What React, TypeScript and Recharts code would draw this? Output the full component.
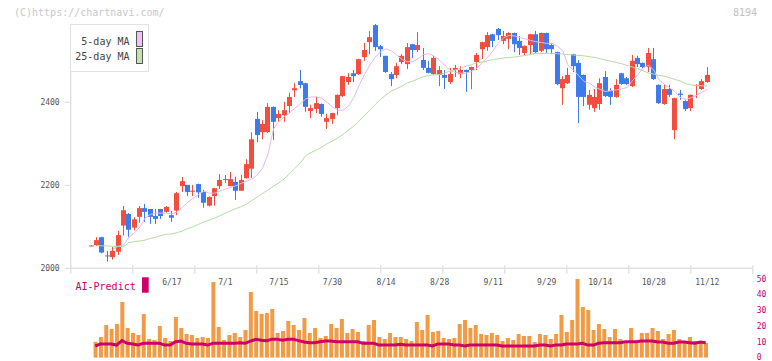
import React from 'react';
import { ComposedChart, Bar, Line, XAxis, YAxis, ReferenceLine } from 'recharts';

const opens = [2055,2056,2075,2031,2027,2040,2103,2131,2098,2124,2145,2143,2126,2143,2136,2128,2139,2198,2201,2185,2203,2184,2151,2174,2198,2213,2198,2208,2187,2217,2240,2360,2328,2328,2389,2362,2369,2391,2429,2451,2446,2379,2384,2396,2353,2360,2386,2415,2449,2470,2468,2509,2545,2586,2535,2512,2468,2466,2497,2492,2540,2526,2502,2483,2468,2466,2466,2449,2478,2468,2478,2478,2497,2528,2533,2564,2577,2548,2553,2567,2548,2519,2538,2564,2524,2567,2538,2521,2434,2446,2516,2495,2466,2394,2386,2396,2461,2427,2413,2470,2458,2439,2507,2495,2485,2504,2442,2396,2432,2333,2421,2403,2386,2440,2432,2449];
const highs = [2056,2075,2076,2042,2051,2090,2150,2133,2123,2150,2155,2143,2143,2143,2150,2138,2184,2220,2201,2201,2204,2189,2173,2194,2227,2225,2232,2221,2225,2263,2328,2377,2357,2398,2390,2381,2401,2423,2446,2478,2447,2394,2413,2397,2372,2375,2419,2464,2470,2478,2505,2543,2572,2589,2538,2512,2473,2495,2516,2543,2541,2569,2531,2500,2512,2487,2478,2483,2490,2487,2479,2486,2519,2546,2569,2565,2579,2572,2569,2568,2560,2537,2565,2572,2568,2568,2543,2522,2463,2483,2517,2502,2467,2430,2432,2458,2475,2434,2456,2471,2461,2514,2512,2496,2531,2531,2443,2442,2442,2411,2430,2405,2419,2443,2456,2485];
const lows = [2054,2054,2036,2016,2021,2032,2079,2076,2091,2110,2112,2107,2107,2119,2134,2112,2128,2184,2174,2174,2170,2146,2149,2151,2191,2206,2198,2165,2187,2217,2218,2304,2311,2326,2309,2353,2353,2374,2413,2434,2377,2362,2374,2365,2336,2348,2369,2413,2442,2449,2466,2500,2516,2524,2509,2471,2439,2458,2492,2480,2507,2521,2478,2470,2466,2439,2432,2444,2461,2458,2425,2432,2478,2504,2524,2533,2550,2540,2528,2521,2514,2512,2516,2519,2521,2519,2516,2441,2394,2444,2473,2350,2391,2382,2377,2382,2413,2394,2411,2442,2442,2437,2485,2480,2473,2454,2396,2394,2413,2311,2406,2379,2379,2410,2430,2447];
const closes = [2055,2068,2038,2030,2042,2080,2140,2093,2118,2145,2136,2124,2119,2126,2148,2122,2181,2210,2184,2187,2183,2158,2172,2193,2213,2215,2215,2187,2213,2251,2311,2321,2348,2389,2353,2372,2381,2413,2434,2442,2389,2386,2398,2372,2362,2374,2418,2463,2461,2463,2504,2526,2557,2533,2528,2473,2456,2487,2512,2533,2526,2538,2483,2471,2507,2478,2459,2468,2483,2478,2473,2485,2514,2545,2562,2548,2562,2560,2567,2540,2531,2536,2564,2521,2567,2528,2528,2444,2456,2466,2487,2413,2413,2418,2413,2446,2415,2413,2442,2444,2444,2500,2492,2485,2519,2456,2398,2432,2418,2410,2418,2384,2418,2442,2451,2466];

const ma5 = [null,null,null,null,2047,2053,2056,2075,2085,2099,2121,2130,2133,2133,2133,2131,2136,2147,2159,2169,2178,2186,2181,2181,2187,2191,2195,2199,2205,2210,2216,2225,2243,2277,2336,2354,2365,2375,2386,2397,2408,2413,2413,2410,2400,2389,2381,2381,2391,2412,2442,2467,2490,2509,2522,2529,2524,2514,2503,2498,2498,2505,2515,2517,2511,2502,2489,2476,2472,2470,2470,2474,2483,2496,2509,2525,2543,2556,2561,2560,2556,2553,2549,2546,2544,2542,2542,2535,2525,2489,2478,2464,2450,2446,2437,2431,2426,2428,2430,2432,2436,2452,2466,2483,2489,2478,2454,2443,2435,2425,2411,2407,2411,2417,2424,2431];
const ma25 = [null,2055,2054,2054,2053,2053,2052,2062,2064,2066,2068,2072,2075,2079,2082,2083,2086,2090,2096,2100,2106,2112,2116,2121,2127,2133,2139,2144,2149,2155,2164,2172,2181,2189,2198,2206,2216,2228,2241,2254,2272,2279,2285,2292,2300,2307,2314,2323,2333,2343,2356,2368,2382,2395,2407,2418,2427,2433,2439,2447,2451,2457,2462,2465,2466,2467,2471,2475,2478,2483,2487,2491,2495,2497,2500,2503,2505,2507,2508,2509,2511,2513,2515,2518,2518,2518,2518,2517,2516,2515,2514,2513,2512,2510,2508,2505,2502,2499,2496,2493,2489,2485,2481,2476,2471,2468,2465,2463,2459,2455,2451,2445,2442,2440,2440,2439];

const volume = [null,10.1,13.1,20.7,18.2,21.3,35.3,18.8,15.6,14.4,27.7,11.8,11.2,20.1,12.5,10.6,25.8,18.8,15.0,14.4,12.5,13.1,12.5,47.9,19.4,11.2,14.4,15.6,13.1,17.5,41.6,29.6,27.7,28.3,30.8,15.6,16.9,23.2,20.7,17.5,25.1,15.6,18.8,12.5,13.7,21.3,18.8,24.5,15.6,18.2,16.2,10.6,20.7,23.9,13.1,11.8,15.6,13.1,13.1,11.8,10.6,22.6,17.5,27.0,16.2,16.9,12.5,11.8,12.5,21.3,23.9,18.8,20.7,15.0,14.4,15.6,14.4,10.6,12.5,11.2,15.0,13.7,13.7,9.9,15.0,14.4,11.8,15.0,27.0,16.2,23.9,49.8,32.1,30.2,17.5,21.3,18.2,13.1,18.2,11.8,10.6,18.8,10.6,15.6,15.6,18.8,16.9,11.8,15.0,17.5,11.8,9.9,13.1,10.6,9.9,9.3];
const aiPredict = [null,7.4,8.7,8.7,8.7,8.0,10.8,9.1,8.7,8.0,9.1,9.1,9.1,9.1,8.0,8.0,10.1,10.5,9.1,8.7,8.7,8.7,8.0,9.1,9.1,9.1,9.1,9.1,9.5,9.1,10.5,11.6,11.1,10.8,11.6,11.6,11.1,11.6,11.6,10.8,9.9,9.5,9.5,10.1,10.5,10.5,10.1,10.1,10.1,10.1,10.1,9.1,9.1,9.1,8.0,8.0,8.0,8.0,8.5,8.0,8.0,8.0,8.0,8.0,7.4,8.7,8.7,8.7,8.0,8.0,7.4,8.0,8.0,8.0,8.0,8.0,8.0,7.4,7.4,7.4,7.4,7.4,7.4,7.4,8.0,8.0,7.4,8.0,8.0,8.7,8.7,8.7,9.1,8.0,8.0,9.1,9.5,9.5,9.5,9.5,10.1,10.1,10.1,10.5,10.5,10.5,9.9,9.9,9.1,9.1,9.9,9.9,9.5,9.1,9.9,9.5];

const tickLabels = ['6/17','7/1','7/15','7/30','8/14','8/28','9/11','9/29','10/14','10/28','11/12'];
const tickIndices = [15,25,35,45,55,65,75,85,95,105,115];
const priceTicks = [2000, 2200, 2400];
const volumeTicks = [0, 10, 20, 30, 40, 50];

const data = opens.map((o, i) => ({
  i,
  open: o,
  high: highs[i],
  low: lows[i],
  close: closes[i],
  range: [lows[i], highs[i]],
  ma5: ma5[i],
  ma25: ma25[i],
  vol: volume[i],
  ai: aiPredict[i],
}));

const UP = '#f24d3d';
const DOWN = '#3d7bed';
const FONT = '"DejaVu Sans Mono", monospace';

const Candle = (props: any) => {
  const { x, y, width, height, payload } = props;
  if (!payload || x == null || y == null) return <g />;
  const { open, close, high, low } = payload;
  const k = high > low ? height / (high - low) : 0;
  const yOf = (v: number) => y + (high - v) * k;
  const cx = Math.floor(x + width / 2) + 0.5;
  const color = close >= open ? UP : DOWN;
  const top = yOf(Math.max(open, close));
  const bot = yOf(Math.min(open, close));
  const h = Math.max(1, bot - top);
  return (
    <g>
      <line x1={cx} x2={cx} y1={y} y2={y + height} stroke={color} strokeWidth={1} />
      <rect x={cx - 2.5} y={top} width={5} height={h} fill={color} />
    </g>
  );
};

const DateTick = (props: any) => {
  const { x, payload } = props;
  const idx = tickIndices.indexOf(payload.value);
  if (idx < 0) return <g />;
  return (
    <text x={x} y={285} textAnchor="middle" fontSize={8} fill="#555" fontFamily={FONT}>
      {tickLabels[idx]}
    </text>
  );
};

const VolTick = (props: any) => {
  const { x, y, payload } = props;
  const dy = payload.value === 0 ? 1.8 : 3;
  return (
    <text x={x} y={y} dy={dy} textAnchor="start" fontSize={8} fill="#cc0066" fontFamily={FONT}>
      {payload.value}
    </text>
  );
};

const gridXs = Array.from({ length: 12 }, (_, k) => -3.884 + 11.578 * k);

export default function App() {
  return (
    <div style={{ position: 'absolute', left: 0, top: 0, width: 772, height: 361, background: '#fff' }}>
      <ComposedChart
        width={772}
        height={361}
        data={data}
        margin={{ top: 23.8, right: 0, bottom: 2.3, left: 30.7 }}
      >
        <XAxis
          xAxisId="c"
          dataKey="i"
          type="category"
          padding={{ left: 18.12, right: 42.7 }}
          axisLine={false}
          tickLine={false}
          interval={0}
          height={1}
          tick={<DateTick />}
        />
        <XAxis xAxisId="v" dataKey="i" type="category" padding={{ left: 16.5, right: 44.3 }} hide />
        <XAxis xAxisId="g" dataKey="i" type="number" domain={[-3.884, 123.47]} allowDataOverflow hide />
        <YAxis
          yAxisId="p"
          orientation="left"
          width={40}
          domain={[1784.6, 2589.2]}
          allowDataOverflow
          ticks={priceTicks}
          interval={0}
          axisLine={false}
          tickLine={{ stroke: '#dddddd' }}
          tickSize={6}
          tickMargin={5}
          tick={{ fontSize: 8, fill: '#555', fontFamily: FONT }}
        />
        <YAxis
          yAxisId="vol"
          orientation="right"
          width={19.3}
          domain={[0, 211.3]}
          allowDataOverflow
          ticks={volumeTicks}
          interval={0}
          axisLine={false}
          tickLine={false}
          tickSize={0}
          tickMargin={4}
          tick={<VolTick />}
        />
        <ReferenceLine yAxisId="p" xAxisId="g" y={2000} stroke="#e2e2e2" strokeWidth={1.5} ifOverflow="visible" />
        <ReferenceLine
          yAxisId="p"
          xAxisId="g"
          segment={[{ x: -3.884, y: 2589 }, { x: -3.884, y: 2000 }]}
          stroke="#e2e2e2"
          strokeWidth={1.5}
          ifOverflow="visible"
        />
        {gridXs.map((gx, k) => (
          <ReferenceLine
            key={k}
            yAxisId="p"
            xAxisId="g"
            segment={[{ x: gx, y: 2007 }, { x: gx, y: 1987 }]}
            stroke="#e2e2e2"
            strokeWidth={1.5}
            ifOverflow="visible"
          />
        ))}
        <Bar xAxisId="v" yAxisId="vol" dataKey="vol" barSize={4} fill="#f39a45" isAnimationActive={false} />
        <Line
          xAxisId="v"
          yAxisId="vol"
          dataKey="ai"
          stroke="#cc0066"
          strokeWidth={3}
          dot={false}
          isAnimationActive={false}
        />
        <Line xAxisId="c" yAxisId="p" dataKey="ma25" stroke="#b5dba5" strokeWidth={1} dot={false} isAnimationActive={false} />
        <Line xAxisId="c" yAxisId="p" dataKey="ma5" stroke="#ebb5ec" strokeWidth={1} dot={false} isAnimationActive={false} />
        <Bar xAxisId="c" yAxisId="p" dataKey="range" barSize={6} shape={<Candle />} isAnimationActive={false} />
      </ComposedChart>
      <svg width={772} height={361} style={{ position: 'absolute', left: 0, top: 0, pointerEvents: 'none' }}>
        <text x={14} y={12.5} fontSize={10} fill="#c8c8c8" fontFamily={FONT} dominantBaseline="central">
          (C)https://chartnavi.com/
        </text>
        <text x={733} y={12.5} fontSize={10} fill="#c0c0c0" fontFamily={FONT} dominantBaseline="central">
          8194
        </text>
        <rect x={70.5} y={24.5} width={78} height={47} fill="#fff" stroke="#e2e2e2" strokeWidth={1} />
        <text x={129.5} y={41} fontSize={10} fill="#444" fontFamily={FONT} textAnchor="end" dominantBaseline="central">
          5-day MA
        </text>
        <rect x={136.5} y={31.5} width={6} height={15} fill="#f0c2f0" stroke="#555" strokeWidth={1} />
        <text x={129.5} y={56.5} fontSize={10} fill="#444" fontFamily={FONT} textAnchor="end" dominantBaseline="central">
          25-day MA
        </text>
        <rect x={136.5} y={48.5} width={6} height={15} fill="#c2e2b4" stroke="#555" strokeWidth={1} />
        <text x={75.5} y={286} fontSize={10} fill="#cc0066" fontFamily={FONT} dominantBaseline="central">
          AI-Predict
        </text>
        <rect x={142} y={277.3} width={6.7} height={15.4} fill="#cc0066" />
      </svg>
    </div>
  );
}
